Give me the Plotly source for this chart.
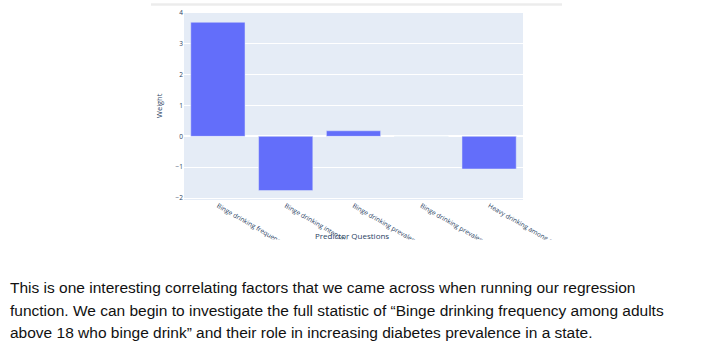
import plotly.graph_objects as go

# ---- data ----
questions = [
    "Binge drinking frequency among adults aged >=18 years who binge drink",
    "Binge drinking intensity among adults aged >=18 years who binge drink",
    "Binge drinking prevalence among adults aged >=18 years",
    "Binge drinking prevalence among high school students",
    "Heavy drinking among adults aged >=18 years",
]
weights = [3.70, -1.76, 0.18, 0.0, -1.06]
y_ticks = [-2, -1, 0, 1, 2, 3, 4]

paragraph_lines = [
    "This is one interesting correlating factors that we came across when running our regression",
    "function. We can begin to investigate the full statistic of \u201cBinge drinking frequency among adults",
    "above 18 who binge drink\u201d and their role in increasing diabetes prevalence in a state.",
]

# ---- layout geometry (pixels) ----
W, H = 724, 350
L, R, T, B = 184, 523, 13, 200
PW, PH = R - L, B - T


def px(x):
    return (x - L) / PW


def py(y):
    return (B - y) / PH


fig = go.Figure(
    go.Bar(x=questions, y=weights, marker=dict(color="#636efa"))
)

shapes = [
    # card top border
    dict(type="line", xref="paper", yref="paper", x0=px(151), x1=px(562),
         y0=py(4.5), y1=py(4.5), line=dict(color="#ececec", width=2.5),
         layer="above"),
    # white mask below the chart screenshot crop
    dict(type="rect", xref="paper", yref="paper", x0=px(0), x1=px(W),
         y0=py(239.5), y1=py(H + 5), fillcolor="white",
         line=dict(width=0), layer="above"),
]

annotations = [
    dict(text="Predictor Questions", xref="paper", yref="paper",
         x=px(352), y=py(235.5), xanchor="center", yanchor="middle",
         showarrow=False, font=dict(size=8, color="#2a3f5f")),
    dict(text="Weight", xref="paper", yref="paper", textangle=-90,
         x=px(159), y=py(106), xanchor="center", yanchor="middle",
         showarrow=False, font=dict(size=7.5, color="#2a3f5f")),
]

line_centers = [287.5, 310.5, 332.5]
for txt, yc in zip(paragraph_lines, line_centers):
    annotations.append(
        dict(text=txt, xref="paper", yref="paper", x=px(7.5), y=py(yc),
             xanchor="left", yanchor="middle", showarrow=False,
             font=dict(family="Liberation Sans Narrow, Arial Narrow, Liberation Sans, Arial",
                       size=15.5, color="#111111"))
    )

fig.update_layout(
    template="plotly",
    width=W, height=H,
    margin=dict(l=L, r=W - R, t=T, b=H - B, pad=0),
    paper_bgcolor="white",
    plot_bgcolor="#E5ECF6",
    showlegend=False,
    shapes=shapes,
    annotations=annotations,
    bargap=0.2,
)
fig.update_xaxes(tickangle=30, automargin=False,
                 tickfont=dict(size=6.5, color="#2a3f5f"), showgrid=False)
fig.update_yaxes(range=[-2.065, 4.0], tickvals=y_ticks, automargin=False,
                 tickfont=dict(size=6.5, color="#2a3f5f"),
                 gridcolor="white", zerolinecolor="white", zerolinewidth=2)

fig.write_html("out.html")
